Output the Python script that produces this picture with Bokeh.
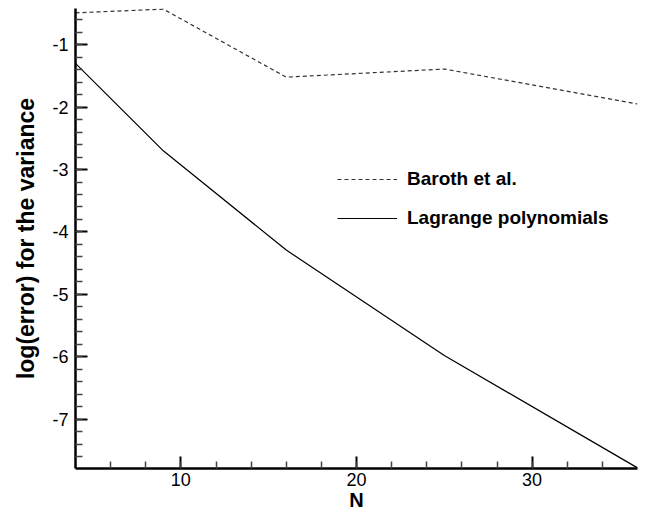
from bokeh.plotting import figure
from bokeh.models import FixedTicker, Range1d, Legend, LegendItem, PrintfTickFormatter
from bokeh.embed import file_html
from bokeh.resources import INLINE

N = [4, 9, 16, 25, 36]
baroth = [-0.49, -0.43, -1.52, -1.39, -1.95]
lagrange = [-1.30, -2.70, -4.29, -5.98, -7.78]
x_ticks = [10, 20, 30]
y_ticks = [-7, -6, -5, -4, -3, -2, -1]

FONT = "Liberation Sans"

p = figure(width=645, height=513, output_backend="svg", toolbar_location=None,
           x_range=Range1d(4, 36), y_range=Range1d(-7.79, -0.42),
           min_border_left=75, min_border_right=8, min_border_top=8, min_border_bottom=43)
p.outline_line_color = None
p.xgrid.visible = False
p.ygrid.visible = False
p.background_fill_color = "white"
p.border_fill_color = "white"

r1 = p.line(N, baroth, line_color="#333333", line_width=1.2, line_dash="4 3")
r2 = p.line(N, lagrange, line_color="black", line_width=1.2)

p.xaxis.ticker = FixedTicker(ticks=x_ticks, minor_ticks=list(range(6, 36, 2)))
p.yaxis.ticker = FixedTicker(ticks=y_ticks, minor_ticks=[round(-7.8 + 0.2 * i, 1) for i in range(37)])
p.yaxis.formatter = PrintfTickFormatter(format="%d")
p.xaxis.formatter = PrintfTickFormatter(format="%d")

for ax in (p.xaxis[0], p.yaxis[0]):
    ax.axis_line_width = 2.5
    ax.axis_line_color = "black"
    ax.major_tick_in = 12
    ax.major_tick_out = 0
    ax.minor_tick_in = 7
    ax.minor_tick_out = 0
    ax.major_tick_line_width = 2
    ax.major_tick_line_color = "black"
    ax.minor_tick_line_width = 1.5
    ax.minor_tick_line_color = "#444444"
    ax.major_label_text_font = FONT
    ax.major_label_text_font_size = "18px"
    ax.major_label_text_color = "black"
    ax.axis_label_text_font = FONT
    ax.axis_label_text_font_style = "bold"
    ax.axis_label_text_color = "black"

p.xaxis.axis_label = "N"
p.xaxis.axis_label_text_font_size = "20px"
p.xaxis.axis_label_standoff = 0
p.xaxis.major_label_standoff = 4
p.yaxis.axis_label = "log(error) for the variance"
p.yaxis.axis_label_text_font_size = "23px"
p.yaxis.axis_label_standoff = 10
p.yaxis.major_label_standoff = 7

legend = Legend(items=[LegendItem(label="Baroth et al.", renderers=[r1]),
                       LegendItem(label="Lagrange polynomials", renderers=[r2])],
                location=(262, 239))
legend.border_line_alpha = 0
legend.background_fill_alpha = 0
legend.padding = 0
legend.margin = 0
legend.spacing = 17
legend.glyph_width = 60
legend.glyph_height = 22
legend.label_height = 22
legend.label_standoff = 10
legend.label_text_font = FONT
legend.label_text_font_size = "19px"
legend.label_text_font_style = "bold"
legend.label_text_color = "black"
p.add_layout(legend, "center")

open("out.html", "w").write(file_html(p, INLINE))
